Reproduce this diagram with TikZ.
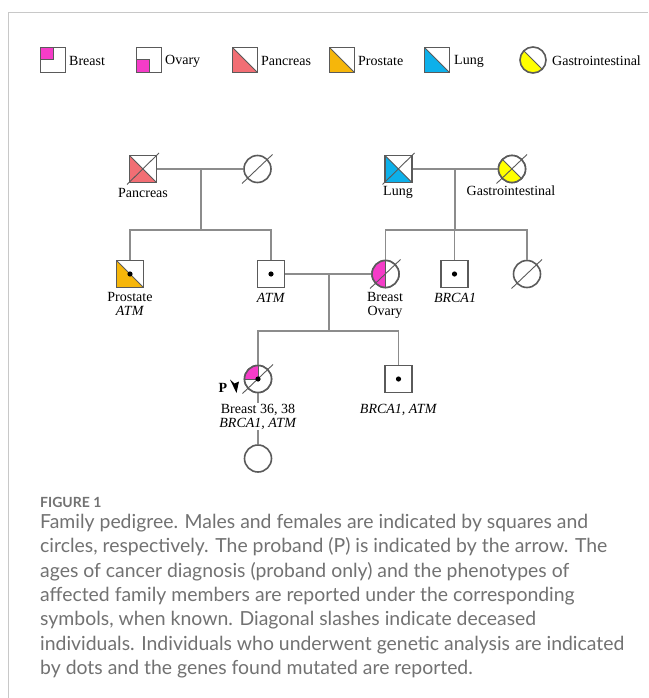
\documentclass[tikz,border=0pt]{standalone}
\usepackage{fontspec}
\setmainfont{Liberation Serif}
\newfontfamily\capfont{Lato}
\usetikzlibrary{calc}
\definecolor{pinkc}{HTML}{F53CC8}
\definecolor{panc}{HTML}{F26E74}
\definecolor{prosc}{HTML}{F6B60A}
\definecolor{lungc}{HTML}{0DB0EA}
\definecolor{gic}{HTML}{FFFF00}
\definecolor{outl}{HTML}{5A5A5A}
\definecolor{connc}{HTML}{8C8C8C}
\definecolor{capc}{HTML}{727272}
\definecolor{framec}{HTML}{C8C8C8}
\begin{document}
\begin{tikzpicture}[x=1pt,y=-1pt,
  male/.style={rectangle,draw=outl,line width=1.6pt,fill=white,minimum size=27pt,inner sep=0pt},
  female/.style={circle,draw=outl,line width=1.6pt,fill=white,minimum size=27pt,inner sep=0pt},
  lmale/.style={male,minimum size=25pt},
  lfemale/.style={female,minimum size=26pt},
  lowerleft/.style={path picture={
    \fill[#1] (path picture bounding box.north west) -- (path picture bounding box.south west) -- (path picture bounding box.south east) -- cycle;
    \draw[outl,line width=1pt] (path picture bounding box.north west) -- (path picture bounding box.south east);}},
  tlquad/.style={path picture={
    \fill[#1] (path picture bounding box.north west) rectangle (path picture bounding box.center);
    \draw[outl,line width=1pt] (path picture bounding box.west) -- (path picture bounding box.center) -- (path picture bounding box.north);}},
  blquad/.style={path picture={
    \fill[#1] (path picture bounding box.south west) rectangle (path picture bounding box.center);
    \draw[outl,line width=1pt] (path picture bounding box.west) -- (path picture bounding box.center) -- (path picture bounding box.south);}},
  lefthalf/.style={path picture={
    \fill[#1] (path picture bounding box.north west) rectangle (path picture bounding box.south);
    \draw[outl,line width=1pt] (path picture bounding box.north) -- (path picture bounding box.south);}},
  connline/.style={draw=connc,line width=1.2pt},
  slashline/.style={draw=outl,line width=0.9pt},
  lbl/.style={font=\fontsize{14}{14}\selectfont,inner sep=0pt,align=center},
  wlbl/.style={lbl,fill=white,inner sep=1pt},
  captext/.style={font=\capfont\fontsize{19.4}{22}\selectfont,text=capc,inner sep=0pt,anchor=base west},
]
\useasboundingbox (0,0) rectangle (648,698);
\fill[white] (0,0) rectangle (648,698);
\draw[framec,line width=1pt] (648,12.5) -- (8.5,12.5) -- (8.5,698);

% ---------- legend ----------
\node[lmale,tlquad=pinkc] (lgbr) at (53,60) {};
\node[lbl,anchor=west] (lgbrt) at (69,61) {Breast};
\node[lmale,blquad=pinkc] (lgov) at (149,60) {};
\node[lbl,anchor=west] (lgovt) at (165,61) {Ovary};
\node[lmale,lowerleft=panc] (lgpa) at (245,60) {};
\node[lbl,anchor=west] (lgpat) at (261,61) {Pancreas};
\node[lmale,lowerleft=prosc] (lgpr) at (342,60) {};
\node[lbl,anchor=west] (lgprt) at (358,61) {Prostate};
\node[lmale,lowerleft=lungc] (lglu) at (437,60) {};
\node[lbl,anchor=west] (lglut) at (454,61) {Lung};
\node[lfemale,lowerleft=gic] (lggi) at (533,60) {};
\node[lbl,anchor=west] (lggit) at (552,61) {Gastrointestinal};

% ---------- connector points ----------
\coordinate (m1) at (201,169);
\coordinate (s1) at (201,230);
\coordinate (m2) at (455,169);
\coordinate (s2) at (455,230);
\coordinate (m3) at (329,274);
\coordinate (s3) at (329,331);

% ---------- individuals (placed first, for names) ----------
\node[male] (pan) at (143,169) {};
\node[female] (w1) at (257.5,169) {};
\node[male] (lung) at (398.5,169) {};
\node[female] (gi) at (512,169) {};
\node[male] (pros) at (130,274) {};
\node[male] (atm) at (271,274) {};
\node[female] (bo) at (385.5,274) {};
\node[male] (brca) at (454.5,274) {};
\node[female] (w2) at (527,274) {};
\node[female] (prob) at (258,379) {};
\node[male] (son) at (398.5,379) {};
\node[female] (dau) at (258,458.5) {};

% ---------- connectors ----------
\path[connline] (pan.east) -- (w1.west);
\path[connline] (m1) -- (s1);
\path[connline] (pros.north) -- (pros.north |- s1) -- (atm.north |- s1) -- (atm.north);
\path[connline] (lung.east) -- (gi.west);
\path[connline] (m2) -- (s2);
\path[connline] (bo.north) -- (bo.north |- s2) -- (w2.north |- s2) -- (w2.north);
\path[connline] (brca.north) -- (brca.north |- s2);
\path[connline] (atm.east) -- (bo.west);
\path[connline] (m3) -- (s3);
\path[connline] (prob.north) -- (prob.north |- s3) -- (son.north |- s3) -- (son.north);
\path[connline] (prob.south) -- (dau.north);

% symbols with fills, on top of connectors
\node[male,lowerleft=panc] at (pan) {};
\node[male,lowerleft=lungc] at (lung) {};
\node[female,lowerleft=gic] at (gi) {};
\node[male,lowerleft=prosc] at (pros) {};
\node[female,lefthalf=pinkc] at (bo) {};
\node[female,tlquad=pinkc] at (prob) {};

% deceased slashes
\foreach \n in {pan,lung} \draw[slashline] ($(\n)+(-16,15.5)$) -- ($(\n)+(16,-16)$);
\foreach \n in {w1,gi,bo,w2,prob} \draw[slashline] ($(\n)+(-15.5,14.5)$) -- ($(\n)+(15,-14.5)$);

% genetic analysis dots
\foreach \n in {pros,atm,brca,prob,son} \fill (\n) circle[radius=2.6pt];

% ---------- labels ----------
\node[lbl] (lpan) at (143,193) {Pancreas};
\node[lbl] (llung) at (398,192) {Lung};
\node[lbl] (lgi) at (511,191) {Gastrointestinal};
\node[lbl] (lpros) at (130,304) {Prostate\\\textit{ATM}};
\node[lbl] (latm) at (271,298) {\textit{ATM}};
\node[lbl] (lbo) at (385,305) {Breast\\Ovary};
\node[lbl] (lbrca) at (455,298) {\textit{BRCA1}};
\node[wlbl] (lprob) at (258,416.5) {Breast 36, 38\\\textit{BRCA1, ATM}};
\node[lbl] (lson) at (398.5,410) {\textit{BRCA1, ATM}};

% proband marker
\node[lbl,font=\fontsize{14}{14}\selectfont\bfseries] (plabel) at (223,388) {P};
\fill (230,379.5) -- (234.5,383.5) -- (239,381.5) -- (236.5,393) -- cycle;

% ---------- caption ----------
\node[captext,font=\capfont\bfseries\fontsize{14}{16}\selectfont] (fig) at (40,507) {FIGURE 1};
\node[captext] (c1) at (40,528.5) {Family pedigree. Males and females are indicated by squares and};
\node[captext] (c2) at (40,552.8) {circles, respectively. The proband (P) is indicated by the arrow. The};
\node[captext] (c3) at (40,577.1) {ages of cancer diagnosis (proband only) and the phenotypes of};
\node[captext] (c4) at (40,601.4) {affected family members are reported under the corresponding};
\node[captext] (c5) at (40,625.7) {symbols, when known. Diagonal slashes indicate deceased};
\node[captext] (c6) at (40,650) {individuals. Individuals who underwent genetic analysis are indicated};
\node[captext] (c7) at (40,674.3) {by dots and the genes found mutated are reported.};
\end{tikzpicture}
\end{document}
